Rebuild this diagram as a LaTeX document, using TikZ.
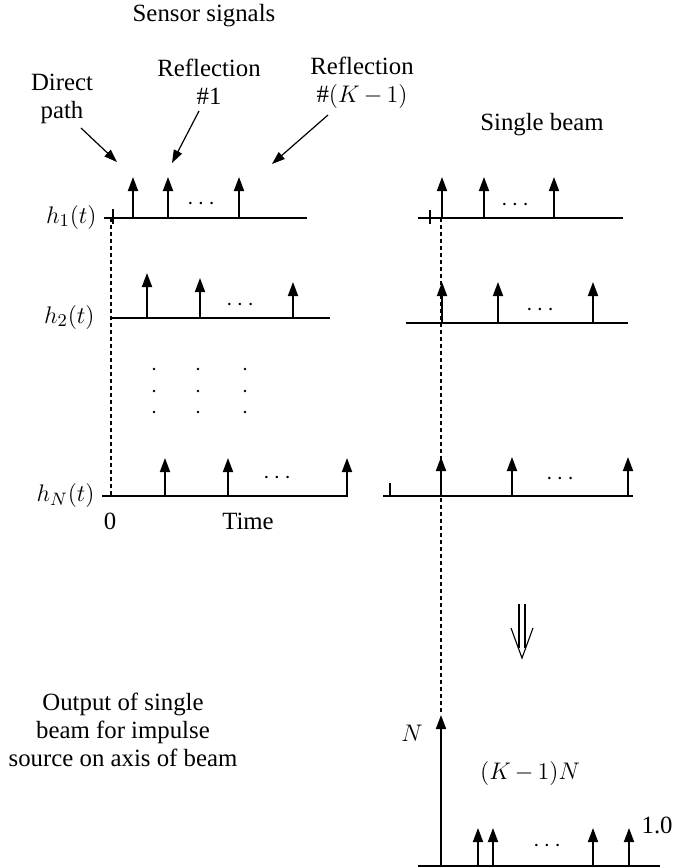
\documentclass[tikz,border=0pt]{standalone}
\usepackage{fontspec}
\setmainfont{Liberation Serif}
\usetikzlibrary{arrows.meta}
\begin{document}
\begin{tikzpicture}[x=0.5pt,y=-0.5pt,
  every node/.style={font=\fontsize{12.4}{14}\selectfont, inner sep=0pt, align=center},
  ax/.style={line width=0.9pt},
  imp/.style={line width=0.9pt,-{Triangle[length=7pt,width=5pt]}},
  ptr/.style={line width=0.6pt,-{Triangle[length=6.5pt,width=4.5pt]}},
  dsh/.style={line width=0.8pt,dash pattern=on 2pt off 1.5pt},
  vdot/.style={fill=black},
  dbl/.style={line width=0.55pt, line join=miter},
]
\useasboundingbox (0,0) rectangle (674,868);

% ---------- titles and labels ----------
\node (sensor) at (204,16) {Sensor signals};
\node (direct) at (62,99) {Direct\\path};
\node (refl1) at (209,82) {Reflection\\\#1};
\node (reflK) at (362,83) {Reflection\\\#$(K\,{-}\,1)$};
\node (single) at (542,125) {Single beam};
\node (output) at (123,730) {Output of single\\beam for impulse\\source on axis of beam};

% pointer arrows
\coordinate (pd) at (117,162);
\coordinate (p1) at (172,163);
\coordinate (pk) at (272,164);
\coordinate (pds) at (81,128);
\coordinate (p1s) at (199,111);
\coordinate (pks) at (328,115);
\draw[ptr] (pds) -- (pd);
\draw[ptr] (p1s) -- (p1);
\draw[ptr] (pks) -- (pk);

% ---------- left column ----------
\node[anchor=base east] (h1) at (97,223) {$h_1(t)$};
\node[anchor=base east] (h2) at (95,323) {$h_2(t)$};
\node[anchor=base east] (hN) at (95,501) {$h_N(t)$};
\node (zero) at (110,521) {0};
\node (time) at (248,521) {Time};

% axes
\coordinate (L1s) at (104,218); \coordinate (L1e) at (307,218);
\coordinate (L2s) at (110,318); \coordinate (L2e) at (330,318);
\coordinate (LNs) at (102,496); \coordinate (LNe) at (348,496);
\draw[ax] (L1s) -- (L1e);
\draw[ax] (L2s) -- (L2e);
\draw[ax] (LNs) -- (LNe);
\coordinate (L1k1) at (113,209); \coordinate (L1k2) at (113,224);
\draw[line width=0.8pt] (L1k1) -- (L1k2);
% dashed reference
\coordinate (Ld1) at (111,218); \coordinate (Ld2) at (111,496);
\draw[dsh] (Ld1) -- (Ld2);

% impulses left
\foreach \n/\x/\b/\t in {L1a/133/218/177, L1b/168/218/177, L1c/239/218/177,
                          L2a/147/318/273, L2b/200/318/278, L2c/293/318/282,
                          LNa/165/496/458, LNb/228/496/458, LNc/347/496/458}{
  \coordinate (\n b) at (\x,\b);
  \coordinate (\n t) at (\x,\t);
  \draw[imp] (\n b) -- (\n t);
}
\node (L1dots) at (201,204) {$\cdots$};
\node (L2dots) at (240,305) {$\cdots$};
\node (LNdots) at (277,478) {$\cdots$};

% vertical dots
\foreach \x in {154,198,245}{
  \foreach \y in {369,391,412}{
    \fill[vdot] (\x,\y) circle (1.4);
  }
}

% ---------- right column ----------
\coordinate (R1s) at (418,218); \coordinate (R1e) at (623,218);
\coordinate (R2s) at (406,323); \coordinate (R2e) at (628,323);
\coordinate (RNs) at (383,496); \coordinate (RNe) at (633,496);
\draw[ax] (R1s) -- (R1e);
\draw[ax] (R2s) -- (R2e);
\draw[ax] (RNs) -- (RNe);
\coordinate (R1k1) at (430,210); \coordinate (R1k2) at (430,224);
\draw[line width=0.8pt] (R1k1) -- (R1k2);
\coordinate (RNk1) at (390,483); \coordinate (RNk2) at (390,496);
\draw[line width=0.8pt] (RNk1) -- (RNk2);

\foreach \n/\x/\b/\t in {R1a/442/218/177, R1b/484/218/177, R1c/554/218/177,
                          R2a/442/323/282, R2b/498/323/282, R2c/593/323/282,
                          RNa/441/496/457, RNb/512/496/457, RNc/628/496/457}{
  \coordinate (\n b) at (\x,\b);
  \coordinate (\n t) at (\x,\t);
  \draw[imp] (\n b) -- (\n t);
}
\node (R1dots) at (515,205) {$\cdots$};
\node (R2dots) at (540,310) {$\cdots$};
\node (RNdots) at (560,479) {$\cdots$};

% ---------- output ----------
\coordinate (Bs) at (418,866); \coordinate (Be) at (660,866);
\draw[ax] (Bs) -- (Be);
\coordinate (Nb) at (441,866); \coordinate (Nt) at (441,715);
\draw[imp] (Nb) -- (Nt);
\coordinate (Rd1) at (441,218);
\draw[dsh] (Rd1) -- (Nt);

\foreach \n/\x in {Ba/478, Bb/493, Bc/593, Bd/629}{
  \coordinate (\n b) at (\x,866);
  \coordinate (\n t) at (\x,828);
  \draw[imp] (\n b) -- (\n t);
}
\node (Bdots) at (547,846) {$\cdots$};
\node (Nlbl) at (412,733) {$N$};
\node (KN) at (530,773) {$(K\,{-}\,1)N$};
\node[anchor=east] (one) at (673,825) {1.0};

% double arrow (drawn shape)
\coordinate (dL1) at (519,604); \coordinate (dL2) at (519,648);
\coordinate (dR1) at (525,604); \coordinate (dR2) at (525,648);
\coordinate (dvl) at (511,628); \coordinate (dtip) at (522,658); \coordinate (dvr) at (533,628);
\draw[dbl] (dL1) -- (dL2);
\draw[dbl] (dR1) -- (dR2);
\draw[dbl] (dvl) -- (dtip) -- (dvr);

\end{tikzpicture}
\end{document}
